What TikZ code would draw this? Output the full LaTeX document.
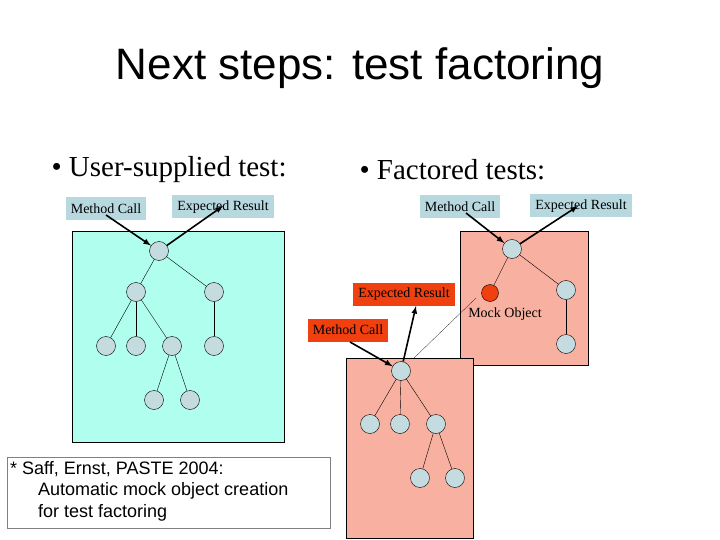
\documentclass[tikz,border=0pt]{standalone}
\usepackage{fontspec}
\setmainfont{Liberation Serif}
\newfontfamily\arial{Liberation Sans}
\begin{document}
\begin{tikzpicture}[x=1pt,y=-1pt,
 arr/.style={-latex,line width=1.6pt},
 ln/.style={thin}]
\definecolor{lbfill}{HTML}{B8D8E0}
\definecolor{aqua}{HTML}{B0FFEE}
\definecolor{salmon}{HTML}{F8B0A0}
\definecolor{nfill}{HTML}{C4DCE0}
\definecolor{redfill}{HTML}{F04010}
\tikzset{nd/.style={circle,draw,fill=nfill,minimum size=19pt,inner sep=0pt},
 lbl/.style={fill=lbfill,font=\fontsize{14}{16}\selectfont,inner xsep=5pt,inner ysep=2pt,minimum height=23pt},
 rlbl/.style={fill=redfill,font=\fontsize{14}{16}\selectfont,inner xsep=5pt,inner ysep=2pt,minimum height=23pt}}
\useasboundingbox (0,0) rectangle (720,540);
\node[font=\arial\fontsize{44}{50}\selectfont] (title) at (360,68) {Next steps: test factoring};
\node[anchor=west,font=\fontsize{29}{32}\selectfont] (b1) at (48,170) {\textbullet\ User-supplied test:};
\node[anchor=west,font=\fontsize{29}{32}\selectfont] (b2) at (356,170) {\textbullet\ Factored tests:};
% left
\draw[fill=aqua] (72,231) rectangle (284,442);
\node[nd] (r) at (159,251) {};
\node[nd] (a) at (136,292) {}; \node[nd] (b) at (214,292) {};
\node[nd] (a1) at (106,346) {}; \node[nd] (a2) at (136,346) {}; \node[nd] (a3) at (172,346) {}; \node[nd] (b1n) at (214,346) {};
\node[nd] (c1) at (154,400) {}; \node[nd] (c2) at (190,400) {};
\foreach \p/\q in {r/a,r/b,a/a1,a/a2,a/a3,b/b1n,a3/c1,a3/c2} \draw[ln] (\p) -- (\q);
\node[lbl] (mc1) at (106,209) {Method Call};
\node[lbl] (er1) at (223,207) {Expected Result};
\draw[arr] (106,215) -- (r);
\draw[arr] (r) -- (223,206);
% right top
\draw[fill=salmon] (460,231) rectangle (588,365);
\node[nd] (s) at (512,249) {};
\node[circle,draw,fill=redfill,minimum size=17pt,inner sep=0pt] (m) at (490,293) {};
\node[nd] (t) at (566,290) {}; \node[nd] (t1) at (566,344) {};
\draw[ln] (s)--(m); \draw[ln] (s)--(t); \draw[ln] (t)--(t1);
\node[font=\fontsize{14}{16}\selectfont] (mo) at (505,314) {Mock Object};
\node[lbl] (mc2) at (460,207) {Method Call};
\node[lbl] (er2) at (581,206) {Expected Result};
\draw[arr] (466,213) -- (s);
\draw[arr] (s) -- (578,206);
% bottom
\draw[fill=salmon] (346,358) rectangle (473,538);
\node[nd] (u) at (401,371) {};
\node[nd] (u1) at (370,424) {}; \node[nd] (u2) at (400,424) {}; \node[nd] (u3) at (436,424) {};
\node[nd] (v1) at (420,478) {}; \node[nd] (v2) at (455,478) {};
\foreach \p/\q in {u/u1,u/u2,u/u3,u3/v1,u3/v2} \draw[ln] (\p) -- (\q);
\node[rlbl] (er3) at (404,294) {Expected Result};
\node[rlbl] (mc3) at (348,330) {Method Call};
\draw[arr] (350,342) -- (u);
\draw[arr] (u) -- (416,306);
\coordinate (d1) at (414,358); \coordinate (d2) at (476,298);
\draw[very thin] (d1) -- (d2);
% reference
\node[draw=gray,fill=white,anchor=north west,minimum width=323pt,minimum height=71pt,inner sep=0pt] (ref) at (7,457) {};
\node[anchor=north west,align=left,font=\arial\fontsize{18}{21.5}\selectfont,inner sep=0pt] (reft) at (10,461) {* Saff, Ernst, PASTE 2004:\\\hspace*{28pt}Automatic mock object creation\\\hspace*{28pt}for test factoring};
\end{tikzpicture}
\end{document}
